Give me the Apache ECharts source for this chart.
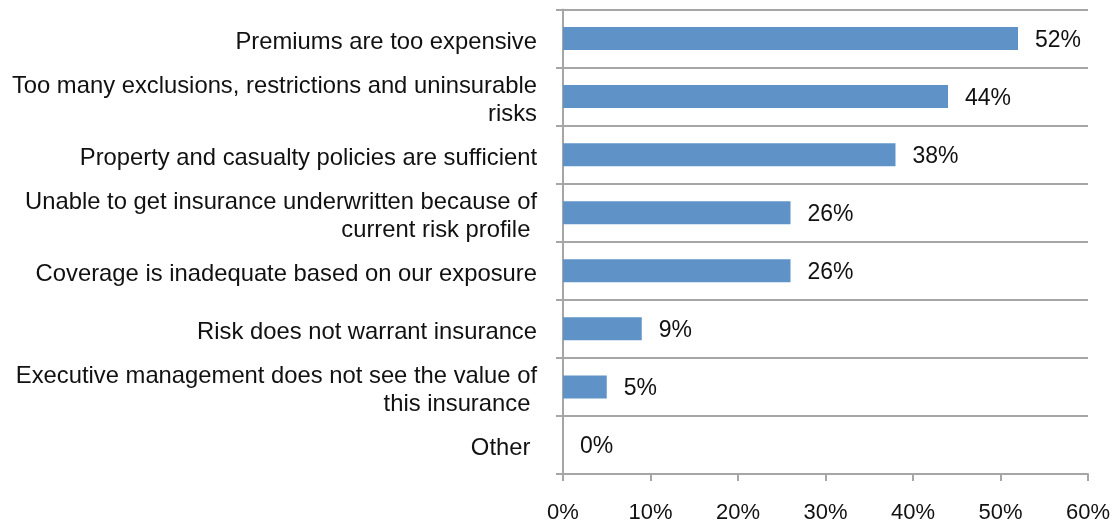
<!DOCTYPE html>
<html>
<head>
<meta charset="utf-8">
<script src="https://cdn.jsdelivr.net/npm/echarts@6/dist/echarts.min.js"></script>
<style>
  html, body { margin: 0; padding: 0; background: #fff; }
  #chart { width: 1116px; height: 524px; }
</style>
</head>
<body>
<div id="chart"></div>
<script>
// Reasons given for not buying the insurance cover (share of respondents)
const categories = [
  'Premiums are too expensive',
  'Too many exclusions, restrictions and uninsurable\nrisks',
  'Property and casualty policies are sufficient',
  'Unable to get insurance underwritten because of\ncurrent risk profile ',
  'Coverage is inadequate based on our exposure',
  'Risk does not warrant insurance',
  'Executive management does not see the value of\nthis insurance ',
  'Other '
];
const values = [52, 44, 38, 26, 26, 9, 5, 0];
const xTicks = { min: 0, max: 60, interval: 10 };

const gray = '#a6a6a6';
const font = 'Liberation Sans, Arial, sans-serif';

const chart = echarts.init(document.getElementById('chart'), null, { renderer: 'canvas' });
chart.setOption({
  animation: false,
  grid: { left: 563, right: 28, top: 9.5, bottom: 50, containLabel: false },
  xAxis: {
    type: 'value',
    min: xTicks.min,
    max: xTicks.max,
    interval: xTicks.interval,
    axisLine: { show: true, lineStyle: { color: gray, width: 2 } },
    axisTick: { show: true, length: 7, lineStyle: { color: gray, width: 2 } },
    splitLine: { show: false },
    axisLabel: {
      formatter: '{value}%',
      color: '#111',
      fontFamily: font,
      fontSize: 22,
      margin: 28
    }
  },
  yAxis: {
    type: 'category',
    data: categories,
    inverse: true,
    boundaryGap: true,
    axisLine: { show: true, lineStyle: { color: gray, width: 2 } },
    axisTick: { show: true, length: 7, lineStyle: { color: gray, width: 2 } },
    splitLine: { show: true, lineStyle: { color: gray, width: 2 } },
    axisLabel: {
      color: '#111',
      fontFamily: font,
      fontSize: 23.8,
      lineHeight: 28,
      margin: 26,
      align: 'right',
      // nudge the text a few pixels below the band centre
      formatter: v => v.split('\n').map(s => '{t|' + s + '}').join('\n'),
      rich: {
        t: {
          fontFamily: font,
          fontSize: 23.8,
          lineHeight: 28,
          color: '#111',
          padding: [7, 0, 0, 0]
        }
      }
    }
  },
  series: [{
    type: 'bar',
    data: values,
    barWidth: 23,
    itemStyle: { color: '#5f93c8' },
    label: {
      show: true,
      position: 'right',
      distance: 17,
      offset: [0, 2],
      formatter: '{c}%',
      color: '#111',
      fontFamily: font,
      fontSize: 23
    }
  }]
});
</script>
</body>
</html>
